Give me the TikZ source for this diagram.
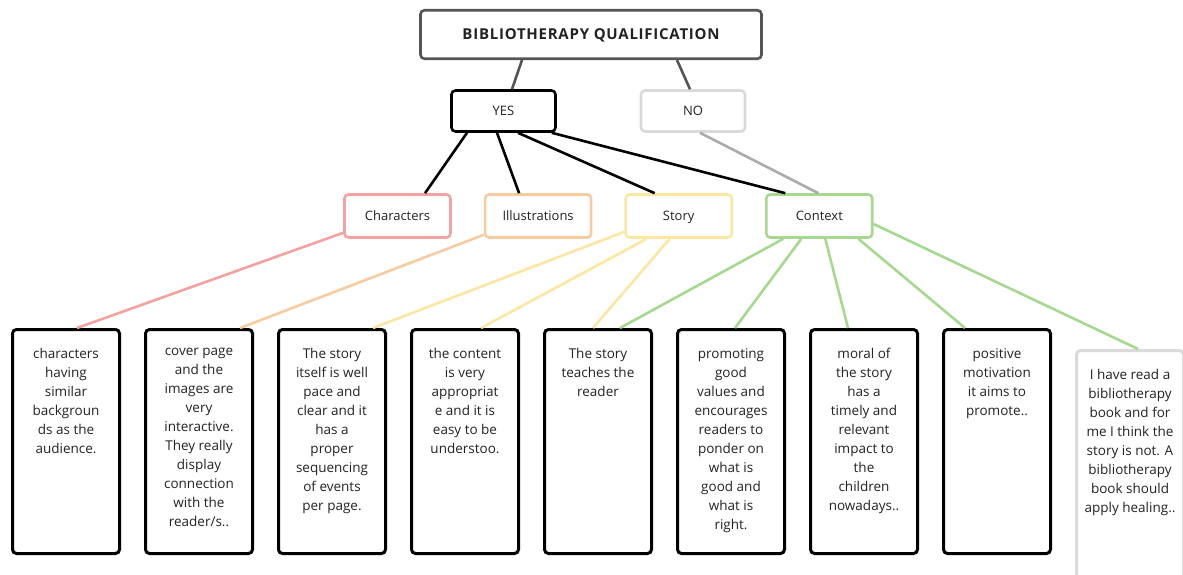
\documentclass[tikz,border=0pt]{standalone}
\usepackage{fontspec}
\setmainfont{Open Sans}
\usetikzlibrary{positioning}
\definecolor{ink}{HTML}{222222}
\definecolor{headgray}{HTML}{555555}
\definecolor{nogray}{HTML}{DADADA}
\definecolor{nolink}{HTML}{ABABAB}
\definecolor{charpink}{HTML}{F2A3A0}
\definecolor{illorange}{HTML}{F7CBA0}
\definecolor{storyyellow}{HTML}{FBE7A1}
\definecolor{ctxgreen}{HTML}{A6D98F}

\begin{document}
\begin{tikzpicture}[x=1pt, y=-1pt, node distance=23pt, text=ink,
  font=\fontsize{13.5}{19}\selectfont,
  box/.style={draw, rounded corners=4pt, line width=2.6pt, align=center},
  head/.style={box, draw=headgray, minimum width=341pt, minimum height=48.5pt, text depth=0pt,
    font=\fontsize{15}{18}\selectfont\bfseries\addfontfeatures{LetterSpace=5}},
  answer/.style={box, minimum width=104pt, minimum height=41pt, text depth=0pt, font=\fontsize{13}{16}\selectfont},
  topic/.style={box, minimum width=106pt, minimum height=43pt, text depth=0pt, font=\fontsize{13}{16}\selectfont},
  leaf/.style={box, line width=3pt, minimum width=107pt, minimum height=224pt},
  leaftxt/.style={anchor=north, yshift=-17pt, align=center, text=ink},
  link/.style={line width=2.6pt}]
  \useasboundingbox (0,0) rectangle (1183,575);
  \clip (0,0) rectangle (1183,575);

  \node[head] (bq) at (591,34.5) {BIBLIOTHERAPY QUALIFICATION};
  \node[answer, draw=black] (yes) at (503.5,111) {YES};
  \node[answer, draw=nogray] (no) at (693,111) {NO};

  \node[topic, draw=charpink] (chr) at (397.5,216) {Characters};
  \node[topic, draw=illorange, right=32pt of chr] (ill) {Illustrations};
  \node[topic, draw=storyyellow, right=32pt of ill] (sty) {Story};
  \node[topic, draw=ctxgreen, right=32pt of sty] (ctx) {Context};

  % answers
  \node[leaf, label={[leaftxt]north:{characters\\having\\similar\\backgroun\\ds as the\\audience.}}] (a1) at (66,441.5) {};
  \node[leaf, right=of a1, label={[leaftxt]north:{cover page\\and the\\images are\\very\\interactive.\\They really\\display\\connection\\with the\\reader/s..}}] (a2) {};
  \node[leaf, right=of a2, label={[leaftxt]north:{The story\\itself is well\\pace and\\clear and it\\has a\\proper\\sequencing\\of events\\per page.}}] (a3) {};
  \node[leaf, right=of a3, label={[leaftxt]north:{the content\\is very\\appropriat\\e and it is\\easy to be\\understoo.}}] (a4) {};
  \node[leaf, right=of a4, label={[leaftxt]north:{The story\\teaches the\\reader}}] (a5) {};
  \node[leaf, right=of a5, label={[leaftxt]north:{promoting\\good\\values and\\encourages\\readers to\\ponder on\\what is\\good and\\what is\\right.}}] (a6) {};
  \node[leaf, right=of a6, label={[leaftxt]north:{moral of\\the story\\has a\\timely and\\relevant\\impact to\\the\\children\\nowadays..}}] (a7) {};
  \node[leaf, right=of a7, label={[leaftxt]north:{positive\\motivation\\it aims to\\promote..}}] (a8) {};
  \node[leaf, draw=nogray, anchor=north, minimum height=250pt, label={[leaftxt]north:{I have read a\\bibliotherapy\\book and for\\me I think the\\story is not. A\\bibliotherapy\\book should\\apply healing..}}] (a9) at (1130,349) {};

  \draw[link, headgray] ([xshift=-69pt]bq.south) -- ([xshift=8.5pt]yes.north);
  \draw[link, headgray] ([xshift=86pt]bq.south) -- ([xshift=-3pt]no.north);

  \draw[link] ([xshift=-36.5pt]yes.south) -- ([xshift=27.5pt]chr.north);
  \draw[link] ([xshift=-6.5pt]yes.south) -- ([xshift=-19pt]ill.north);
  \draw[link] ([xshift=14.5pt]yes.south) -- ([xshift=-24pt]sty.north);
  \draw[link] ([xshift=-5pt]yes.south east) -- ([xshift=-34pt]ctx.north);
  \draw[link, nolink] ([xshift=7pt]no.south) -- ([xshift=-1pt]ctx.north);

  \draw[link, charpink] ([yshift=6pt]chr.south west) -- ([xshift=11pt]a1.north);
  \draw[link, illorange] ([yshift=4pt]ill.south west) -- ([xshift=41pt]a2.north);
  \draw[link, storyyellow] ([yshift=7pt]sty.south west) -- ([xshift=41pt]a3.north);
  \draw[link, storyyellow] ([xshift=-32pt]sty.south) -- ([xshift=16pt]a4.north);
  \draw[link, storyyellow] ([xshift=-9pt]sty.south) -- ([xshift=-5pt]a5.north);
  \draw[link, ctxgreen] ([xshift=-36pt]ctx.south) -- ([xshift=22pt]a5.north);
  \draw[link, ctxgreen] ([xshift=-18pt]ctx.south) -- ([xshift=4pt]a6.north);
  \draw[link, ctxgreen] ([xshift=6pt]ctx.south) -- ([xshift=-16pt]a7.north);
  \draw[link, ctxgreen] ([xshift=39pt]ctx.south) -- ([xshift=-32pt]a8.north);
  \draw[link, ctxgreen] ([yshift=-8pt]ctx.east) -- ([xshift=8pt]a9.north);
\end{tikzpicture}
\end{document}
